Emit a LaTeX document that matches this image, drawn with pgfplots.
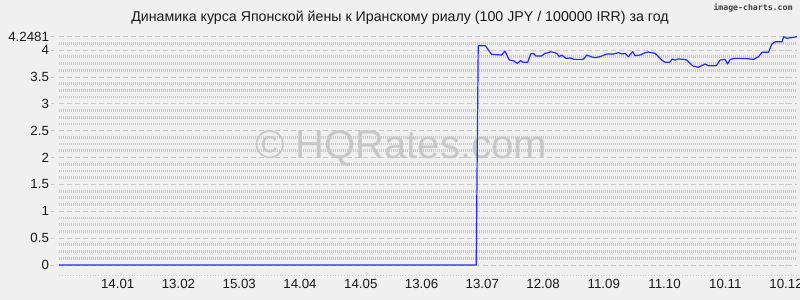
\documentclass[border=0pt]{standalone}
\usepackage{pgfplots}
\pgfplotsset{compat=1.18}
\usepackage{fontspec}
\setmainfont{Liberation Sans}
\newfontfamily\monofont{DejaVu Sans Mono}
\definecolor{bgc}{RGB}{240,240,240}
\definecolor{patc}{RGB}{200,200,200}
\definecolor{majc}{RGB}{200,200,200}
\definecolor{linec}{RGB}{40,40,255}
\definecolor{wmc}{RGB}{200,200,200}
\definecolor{txtc}{RGB}{25,25,25}
\begin{document}
\begin{tikzpicture}
\fill[bgc, use as bounding box] (0,0) rectangle (800bp,300bp);
\node[text=wmc, font=\fontsize{40bp}{44bp}\selectfont, anchor=center] at (401bp,152bp) {© HQRates.com};
\begin{axis}[
  at={(59bp,25bp)}, anchor=south west,
  scale only axis, width=738bp, height=238.3bp,
  xmin=-29, xmax=335.4, ymin=-0.186, ymax=4.2481,
  clip=false,
  /pgf/number format/assume math mode=true,
  font=\fontsize{13.3bp}{15bp}\selectfont,
  tick label style={text=txtc},
  separate axis lines,
  axis x line*=bottom,
  x axis line style={draw=patc, dotted, line width=0.8bp, -},
  y axis line style={draw=none},
  axis line style={-},
  xtick={0,30,60,90,120,150,180,210,240,270,300,330},
  xticklabels={14.01,13.02,15.03,14.04,14.05,13.06,13.07,12.08,11.09,11.10,10.11,10.12},
  xtick style={draw=none},
  xticklabel style={yshift=-1bp},
  ytick={0,0.5,1,1.5,2,2.5,3,3.5,4},
  extra y ticks={4.2481},
  extra y tick labels={4.2481},
  extra y tick style={grid style={draw=patc, line width=2.8bp, dash pattern=on 0.9bp off 1.1bp}},
  minor ytick={0.125,0.25,0.375,0.625,0.75,0.875,1.125,1.25,1.375,1.625,1.75,1.875,2.125,2.25,2.375,2.625,2.75,2.875,3.125,3.25,3.375,3.625,3.75,3.875,4.125},
  ytick style={draw=majc, xshift=-8.3bp, line width=0.8bp},
  major tick length=3.5bp,
  minor tick length=0pt,
  yticklabel style={anchor=east, xshift=-6.5bp},
  ymajorgrids, yminorgrids,
  major grid style={draw=majc, line width=0.8bp, dash pattern=on 5bp off 3bp},
  minor grid style={draw=patc, line width=2.8bp, dash pattern=on 0.9bp off 1.1bp},
]
\addplot[linec, line width=1.2bp, line join=round] coordinates {
(-29,0) (177,0) (178,4.081) (181.5,4.080) (184.6,3.919) (189.5,3.907) (191.2,3.981)
(193.3,3.814) (195.3,3.802) (197.3,3.752) (198.9,3.802) (200.2,3.771) (202.4,3.771)
(203.9,3.926) (205.2,3.938) (206.5,3.888) (209.3,3.888) (210.9,3.938) (212.6,3.950)
(213.8,3.969) (215.9,3.950) (217.0,3.926) (218.0,3.876) (219.2,3.907) (221.3,3.845)
(223.3,3.851) (225.4,3.826) (229.9,3.826) (231.6,3.907) (233.7,3.876) (235.7,3.857)
(238.1,3.876) (241.4,3.926) (244.7,3.926) (247.2,3.950) (248.9,3.926) (250.5,3.938)
(252.1,3.876) (254.3,3.969) (255.4,3.895) (257.9,3.907) (260.4,3.950) (262.0,3.963)
(265.3,3.938) (268.6,3.814) (270.3,3.771) (272.4,3.771) (273.9,3.833) (275.2,3.814)
(276.8,3.833) (279.7,3.826) (281.0,3.814) (284.0,3.702) (286.7,3.678) (290.0,3.740)
(291.7,3.708) (295.5,3.708) (297.5,3.814) (299.9,3.826) (301.1,3.740) (302.4,3.826)
(304.9,3.845) (307.4,3.845) (310.7,3.839) (313.9,3.826) (316.4,3.876) (318.1,3.957)
(321.3,3.957) (323.0,4.112) (324.7,4.155) (328.0,4.155) (328.8,4.248) (330.4,4.217)
(335.4,4.2481)
};
\end{axis}
\node[text=txtc, font=\fontsize{14.2bp}{16bp}\selectfont, anchor=center] at (400bp,282bp) {Динамика курса Японской йены к Иранскому риалу (100 JPY / 100000 IRR) за год};
\node[text=black!75, font=\monofont\bfseries\fontsize{8.2bp}{9bp}\selectfont, anchor=east] at (796bp,292bp) {image-charts.com};
\end{tikzpicture}
\end{document}
